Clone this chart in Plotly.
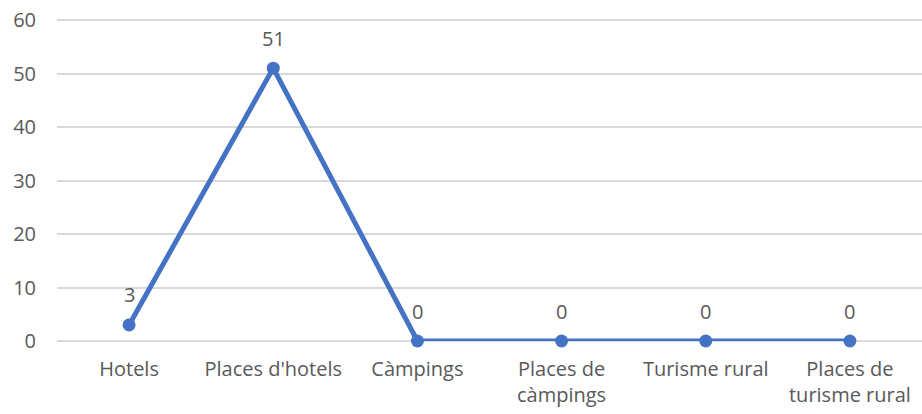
import plotly.graph_objects as go

categories = ["Hotels", "Places d'hotels", "Càmpings", "Places de<br>càmpings", "Turisme rural", "Places de<br>turisme rural"]
values = [3, 51, 0, 0, 0, 0]
y_ticks = [0, 10, 20, 30, 40, 50, 60]

font_family = "Open Sans, Noto Sans, Liberation Sans, sans-serif"
gray = "#595959"
fs = 20

fig = go.Figure()
fig.add_trace(go.Scatter(
    x=categories, y=values, mode="lines+markers",
    line=dict(color="#4472C4", width=5),
    marker=dict(color="#4472C4", size=13),
    hoverinfo="skip", showlegend=False, cliponaxis=False,
))
for c, v in zip(categories, values):
    fig.add_annotation(x=c, y=v, text=str(v), showarrow=False, yshift=30,
                       font=dict(family=font_family, size=fs, color=gray))

fig.update_layout(
    width=922, height=414,
    margin=dict(l=57, r=0, t=17, b=73),
    paper_bgcolor="white", plot_bgcolor="white",
    font=dict(family=font_family, size=fs, color=gray),
)
fig.update_xaxes(
    type="category", range=[-0.5, 5.5], showgrid=False, zeroline=False,
    showline=False, ticks="", ticklabelstandoff=14, automargin=False,
    tickfont=dict(family=font_family, size=fs, color=gray),
)
fig.update_yaxes(
    range=[0, 60.56], tickvals=y_ticks, showgrid=True, gridcolor="#D9D9D9",
    gridwidth=1.5, zeroline=True, zerolinecolor="#D9D9D9", zerolinewidth=1.5,
    showline=False, ticks="", ticklabelstandoff=20, automargin=False,
    tickfont=dict(family=font_family, size=fs, color=gray),
)
fig.write_html("out.html", config={"displayModeBar": False},
               post_script="document.body.style.margin='0';document.body.style.overflow='hidden';")
